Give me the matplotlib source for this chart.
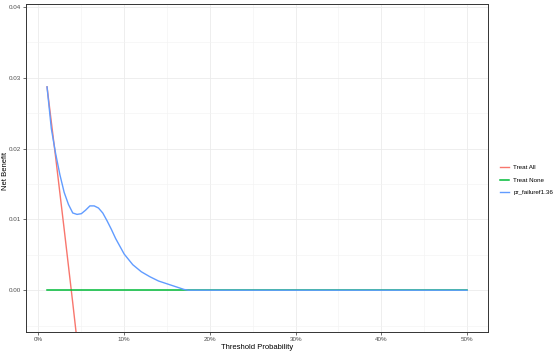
import numpy as np
import matplotlib
matplotlib.use("Agg")
from matplotlib import pyplot as plt
from matplotlib.ticker import FuncFormatter, MultipleLocator

plt.rcParams["font.family"] = ["Liberation Sans", "DejaVu Sans"]

# Threshold probabilities and net benefit.
thresholds = [0.010, 0.015, 0.020, 0.025, 0.030, 0.035, 0.040, 0.045, 0.050,
              0.055, 0.060, 0.065, 0.070, 0.075, 0.080, 0.085, 0.090, 0.100,
              0.110, 0.120, 0.130, 0.140, 0.150, 0.160, 0.170, 0.175, 0.20,
              0.25, 0.30, 0.35, 0.40, 0.45, 0.50]
model = [0.0287, 0.0228, 0.0193, 0.0163, 0.0138, 0.0121, 0.0109, 0.0107,
         0.0108, 0.0113, 0.0119, 0.0119, 0.0116, 0.0109, 0.0098, 0.0086,
         0.0073, 0.0051, 0.0036, 0.0026, 0.0019, 0.0013, 0.0009, 0.0005,
         0.0001, 0.0, 0.0, 0.0, 0.0, 0.0, 0.0, 0.0, 0.0]
treat_all_x = [0.01, 0.02, 0.03, 0.04, 0.05, 0.06]
treat_all = [0.0287, 0.0188, 0.0086, -0.0018, -0.0125, -0.0235]
treat_none_x = [0.01, 0.50]
treat_none = [0.0, 0.0]

labels = ["Treat All", "Treat None", "pr_failuref1.36"]
colors = ["#F8766D", "#00BA38", "#619CFF"]

fig = plt.figure(figsize=(5.54, 3.53), dpi=100)
ax = fig.add_axes([0.047, 0.0595, 0.834, 0.9292])

ax.plot(treat_all_x, treat_all, color=colors[0], lw=1.0, label=labels[0])
ax.plot(treat_none_x, treat_none, color=colors[1], lw=1.1, label=labels[1])
ax.plot(thresholds, model, color=colors[2], lw=1.0, label=labels[2])

ax.set_xlim(-0.0145, 0.5245)
ax.set_ylim(-0.0059, 0.0404)

ax.xaxis.set_major_locator(MultipleLocator(0.1))
ax.xaxis.set_minor_locator(MultipleLocator(0.05))
ax.yaxis.set_major_locator(MultipleLocator(0.01))
ax.yaxis.set_minor_locator(MultipleLocator(0.005))
ax.xaxis.set_major_formatter(FuncFormatter(lambda v, p: f"{v * 100:.0f}%"))
ax.yaxis.set_major_formatter(FuncFormatter(lambda v, p: f"{v:.2f}"))

ax.grid(which="major", color="#EBEBEB", lw=0.6)
ax.grid(which="minor", color="#F2F2F2", lw=0.4)
ax.set_axisbelow(True)
for s in ax.spines.values():
    s.set_color("#333333")
    s.set_linewidth(0.7)

ax.tick_params(which="major", length=2, width=0.5, color="#333333",
               labelsize=4.5, labelcolor="#4D4D4D", pad=1.5)
ax.tick_params(which="minor", length=0)

ax.set_xlabel("Threshold Probability", fontsize=5.5)
ax.set_ylabel("Net Benefit", fontsize=5.5)
ax.xaxis.set_label_coords(0.5, -0.037)
ax.yaxis.set_label_coords(-0.036, 0.49)

leg = fig.legend(loc="center left", bbox_to_anchor=(0.902, 0.49), frameon=False,
                 fontsize=4.5, handlelength=1.5, labelspacing=1.1,
                 handletextpad=0.7, borderpad=0, borderaxespad=0)

fig.savefig("out.png", dpi=100)
